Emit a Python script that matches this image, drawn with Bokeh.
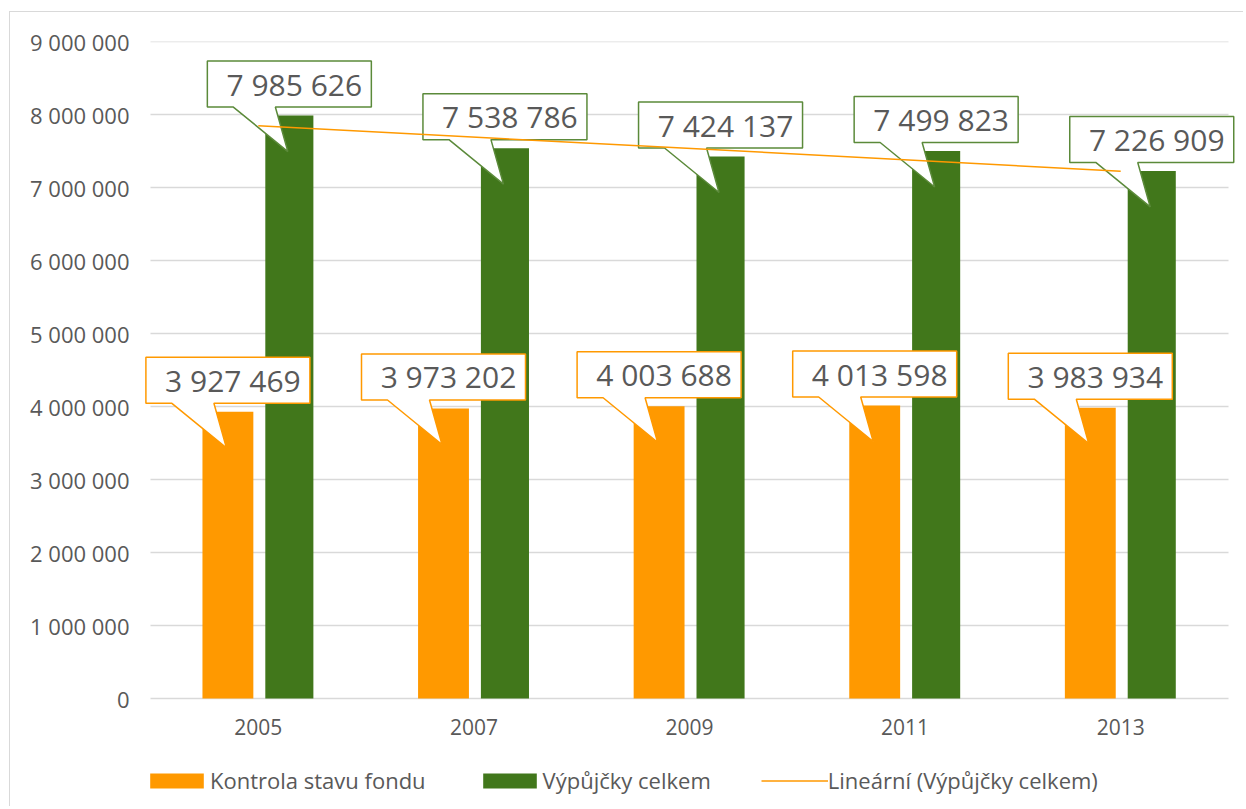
import numpy as np
from bokeh.plotting import figure
from bokeh.models import FixedTicker, Legend, LegendItem, Range1d
from bokeh.core.properties import value
from bokeh.embed import file_html
from bokeh.resources import INLINE

years = ["2005", "2007", "2009", "2011", "2013"]
kontrola = [3927469, 3973202, 4003688, 4013598, 3983934]
vypujcky = [7985626, 7538786, 7424137, 7499823, 7226909]
y_ticks = [0, 1000000, 2000000, 3000000, 4000000, 5000000, 6000000, 7000000, 8000000, 9000000]
y_tick_labels = ["0", "1 000 000", "2 000 000", "3 000 000", "4 000 000", "5 000 000",
                 "6 000 000", "7 000 000", "8 000 000", "9 000 000"]
series_names = ["Kontrola stavu fondu", "Výpůjčky celkem", "Lineární (Výpůjčky celkem)"]

ORANGE = "#FF9900"
GREEN = "#41771B"
GREEN_EDGE = "#5B8A3A"
TEXT = "#595959"
GRID = "#D9D9D9"
FONT = "Open Sans"

# canvas starts at page (10, 12) because of the margin + border below
W, H = 1234, 795
PAD_L = 10                        # extra frame room left of the plot area
ML, MT, MB = 140 - PAD_L, 29, 2
n = len(years)
CAT_PX = 1078 / n                 # pixels per category
FW = 1086 + PAD_L                 # frame width (a bit wider than the plot area)
MR = W - ML - FW
FH = H - MT - MB                  # frame height (extends down to hold labels + legend)
YMAX = y_ticks[-1]
PLOT_PX = 657                     # pixels from 0 to YMAX
px_y = YMAX / PLOT_PX             # data units per pixel (y)
px_x = 1.0 / CAT_PX               # data units per pixel (x)
y_start = -(FH - PLOT_PX) * px_y

p = figure(width=W, height=H, output_backend="svg", toolbar_location=None,
           x_range=Range1d(-PAD_L * px_x, (FW - PAD_L) * px_x), y_range=Range1d(y_start, YMAX),
           min_border_left=ML, min_border_right=MR, min_border_top=MT, min_border_bottom=MB)
p.styles = {"border-top": "1px solid #D9D9D9", "border-left": "1px solid #D9D9D9",
            "margin-left": "9px", "margin-top": "11px"}
p.outline_line_color = None
p.xgrid.visible = False
p.ygrid.visible = False
p.xaxis.visible = False
p.background_fill_color = "white"
p.border_fill_color = "white"

xc = np.arange(n) + 0.5

# gridlines
p.segment(x0=[0] * len(y_ticks), x1=[n] * len(y_ticks), y0=y_ticks, y1=y_ticks,
          line_color=GRID, line_width=1.5)

r_k = p.vbar(x=xc - 0.141, top=kontrola, width=0.236, fill_color=ORANGE, line_color=None)
r_v = p.vbar(x=xc + 0.144, top=vypujcky, width=0.223, fill_color=GREEN, line_color=None)


def callout(cx, top):
    L = cx - 82 * px_x
    R = cx + 82 * px_x
    B = top + 8.5 * px_y
    T = B + 46 * px_y
    bl = L + 26 * px_x
    br = L + 68 * px_x
    tx = cx - 1.5 * px_x
    ty = top - 36 * px_y
    return [L, R, R, br, tx, bl, L], [T, T, B, B, ty, B, B], cx + 5 * px_x, B + 23 * px_y


labels = []
for vals, offs, edge in ((kontrola, -0.141, ORANGE), (vypujcky, 0.144, GREEN_EDGE)):
    xs, ys, txs, tys = [], [], [], []
    for c, v in zip(xc + offs, vals):
        a, b, tx, ty = callout(c, v)
        xs.append(a); ys.append(b); txs.append(tx); tys.append(ty)
    p.patches(xs=xs, ys=ys, fill_color="white", line_color=edge, line_width=1.5)
    labels.append((txs, tys, [f"{v:,}".replace(",", " ") for v in vals]))

# linear trendline (least squares, as Excel does)
fit = np.polyfit(np.arange(1, n + 1), vypujcky, 1)
trend = np.polyval(fit, [1, n])
r_t = p.line(x=[xc[0], xc[-1]], y=trend, line_color=ORANGE, line_width=1.5)

for txs, tys, tt in labels:
    p.text(x=txs, y=tys, text=tt, text_align="center", text_baseline="middle",
           text_font=value(FONT), text_font_size="30px", text_color=TEXT)

# category labels under the bars
p.text(x=xc, y=[-28 * px_y] * n, text=years, text_align="center", text_baseline="middle",
       text_font=value(FONT), text_font_size="21px", text_color=TEXT)

# value axis
p.yaxis.ticker = FixedTicker(ticks=y_ticks)
p.yaxis.major_label_overrides = {t: l for t, l in zip(y_ticks, y_tick_labels)}
ax = p.yaxis[0]
ax.axis_line_color = None
ax.major_tick_line_color = None
ax.minor_tick_line_color = None
ax.major_label_text_font = FONT
ax.major_label_text_color = TEXT
ax.major_label_text_font_size = "22px"
ax.major_label_standoff = 5

legend = Legend(items=[LegendItem(label=series_names[0], renderers=[r_k]),
                       LegendItem(label=series_names[1], renderers=[r_v]),
                       LegendItem(label=series_names[2], renderers=[r_t])],
                orientation="horizontal", location=(PAD_L - 7, 10),
                glyph_width=67, glyph_height=19, label_standoff=0, spacing=50,
                padding=0, margin=0, border_line_color=None, background_fill_alpha=0,
                label_text_font=FONT, label_text_font_size="22px", label_text_color=TEXT)
p.add_layout(legend, "center")

open("out.html", "w").write(file_html(p, INLINE))
